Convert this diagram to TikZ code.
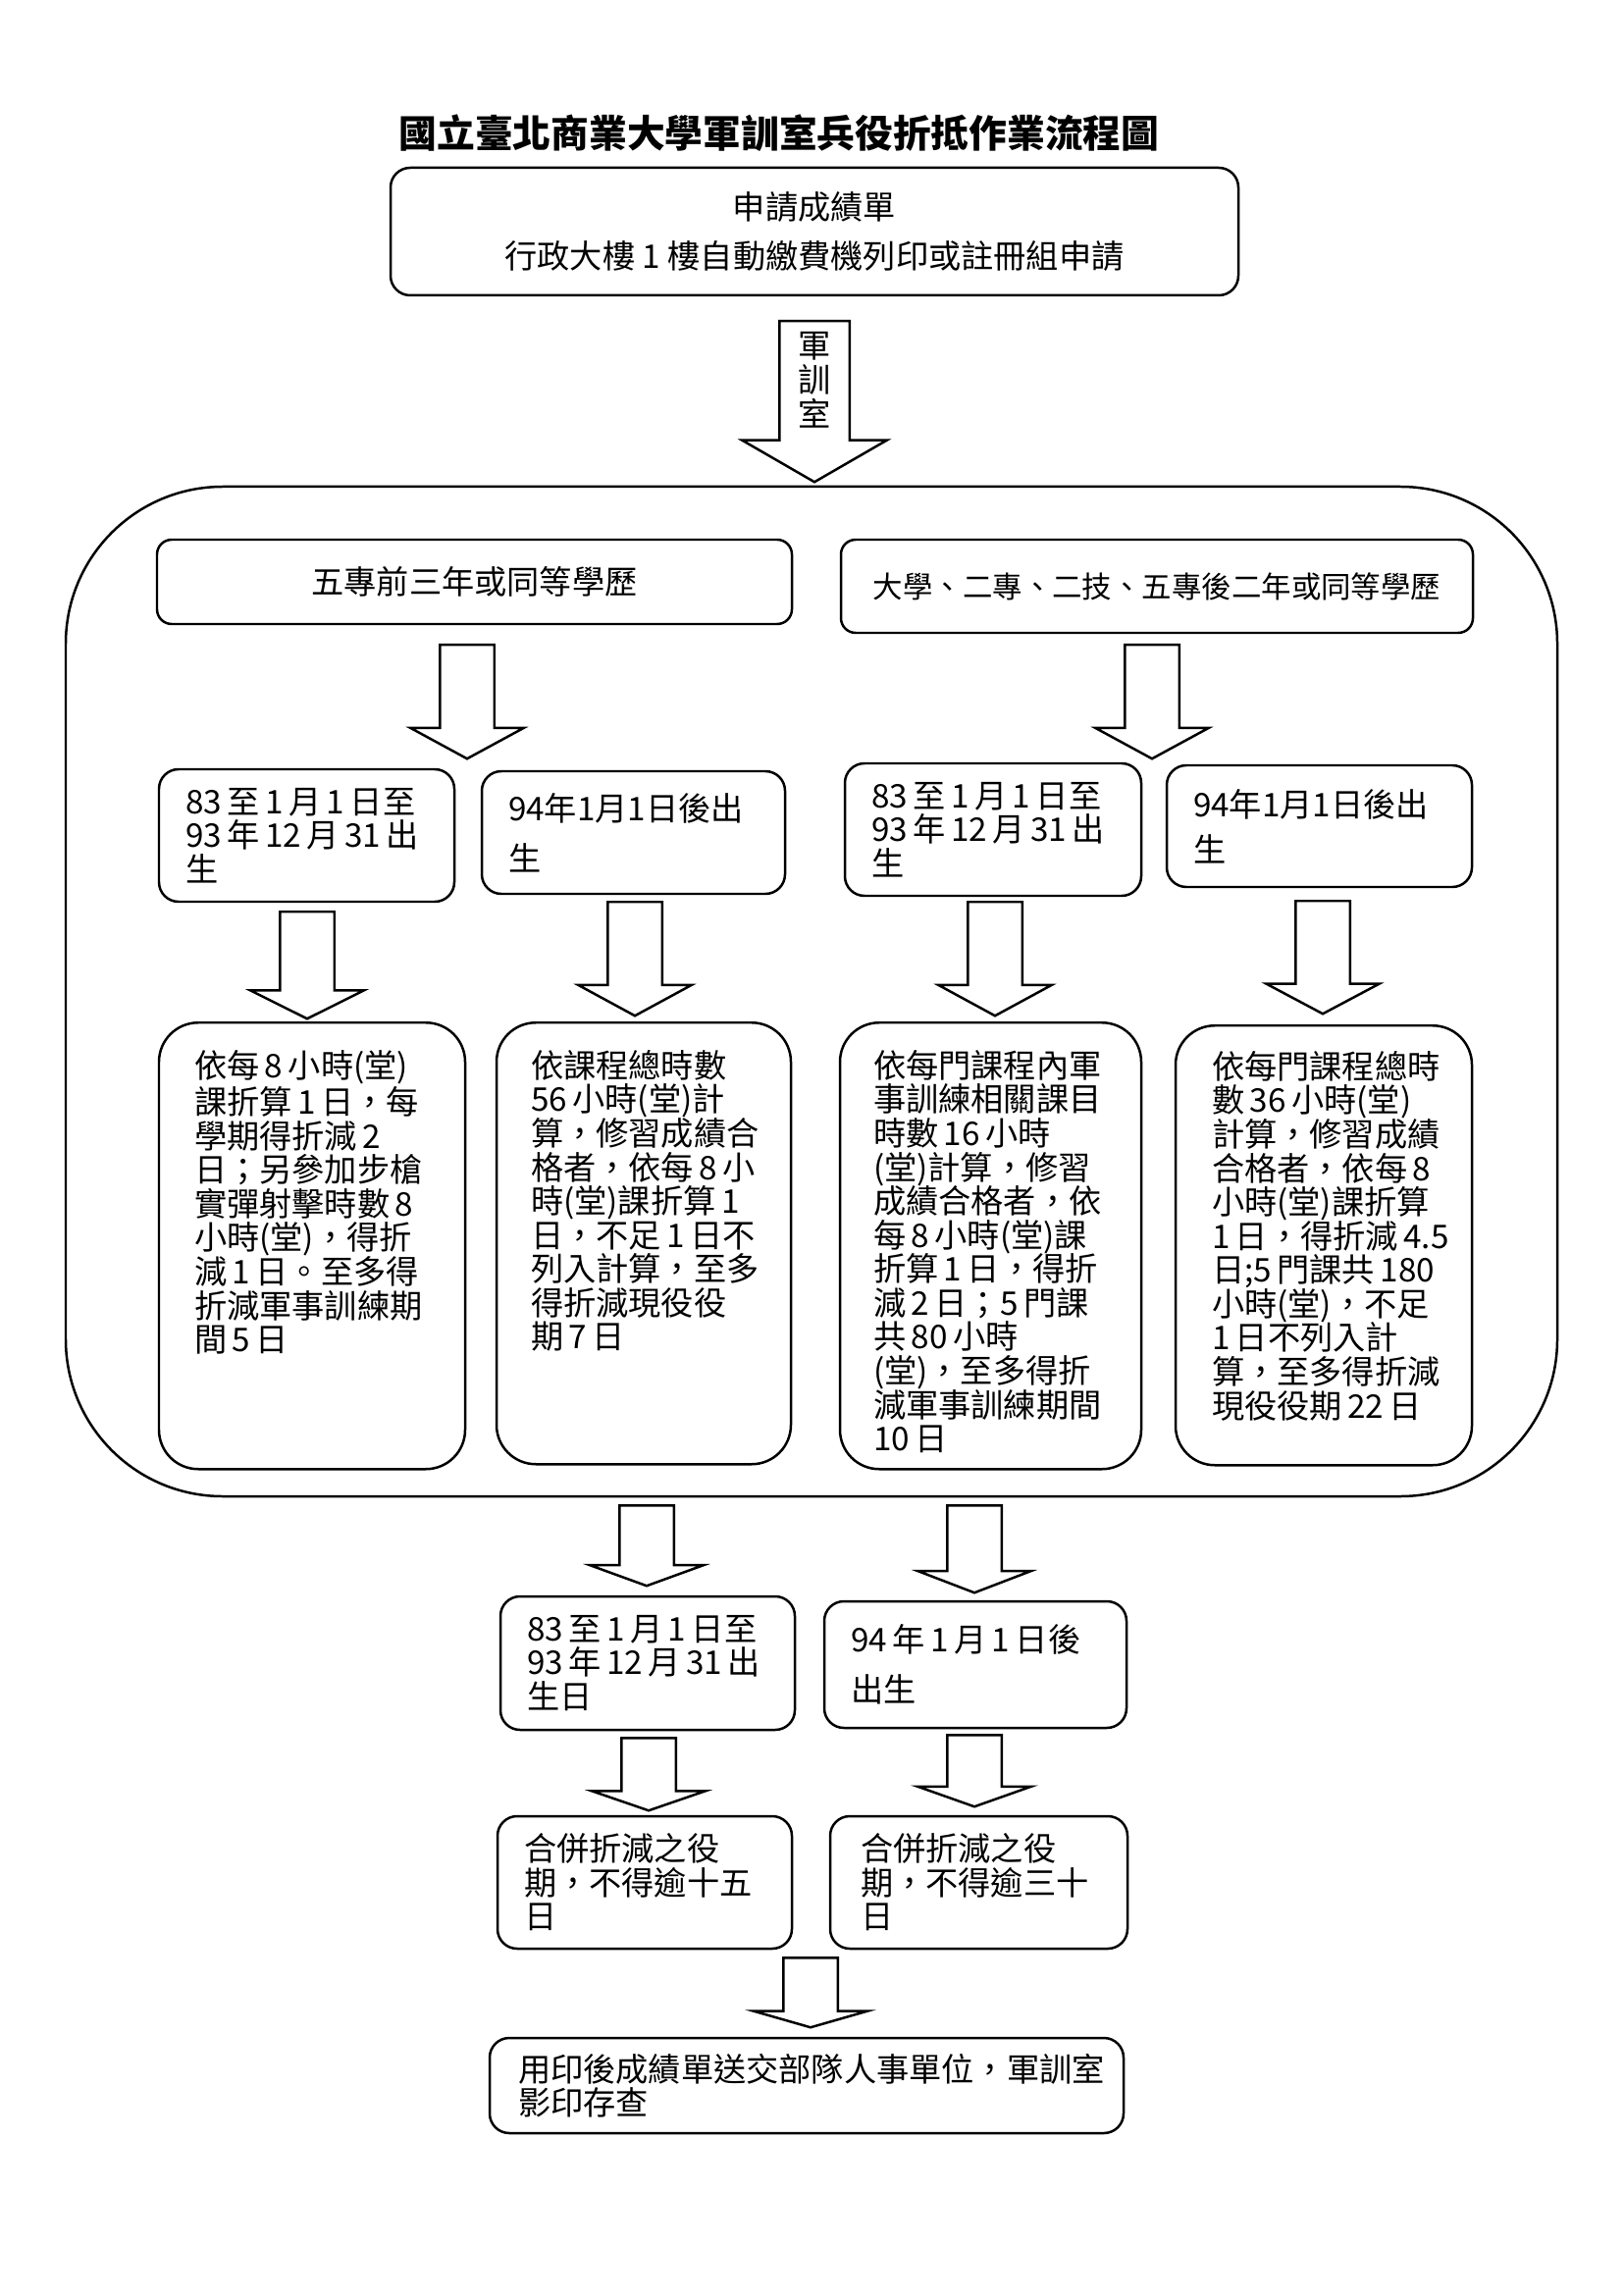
\documentclass[tikz,border=0pt]{standalone}
\usepackage{fontspec}
\setmainfont{Noto Sans CJK TC}
\usepackage{tikz}
\usetikzlibrary{shapes.arrows, positioning}
\newlength{\pu}
\setlength{\pu}{0.36135pt}

\begin{document}
\begin{tikzpicture}[
        x=\pu, y=-\pu,
        line width=0.9pt,
        block/.style={rectangle, draw, rounded corners=20\pu, align=left, inner xsep=27\pu, inner ysep=0pt, font=\fontsize{12}{12.5}\selectfont},
        tallblock/.style={block, rounded corners=40\pu, anchor=north, inner xsep=36\pu, text height=56\pu},
        edu/.style={rectangle, draw, rounded corners=15\pu, align=center, font=\fontsize{12}{14}\selectfont},
        outer/.style={rectangle, draw, rounded corners=160\pu},
        fat/.style 2 args={single arrow, draw, rotate=-90, anchor=tail, inner xsep=0pt, inner ysep=26.5\pu, single arrow head extend=30\pu, minimum height=#1, single arrow tip angle=#2}
    ]
    \useasboundingbox (0,0) rectangle (1654,2339);

    % Title
    \node[font=\fontsize{14}{16}\selectfont\bfseries] (title) at (794,136) {國立臺北商業大學軍訓室兵役折抵作業流程圖};

    % Top
    \node[block, align=center, minimum width=864\pu, minimum height=130\pu, font=\fontsize{12}{18}\selectfont] (apply) at (830,236) {申請成績單\\行政大樓~1~樓自動繳費機列印或註冊組申請};
    \node[fat={164\pu}{120}, inner ysep=34.5\pu, single arrow head extend=38\pu] (arTop) at (830,326) {};
    \node[align=center, font=\fontsize{12}{12.6}\selectfont] (arTopTxt) at (830,387) {軍\\訓\\室};

    % Outer frame
    \node[outer, minimum width=1520\pu, minimum height=1029\pu] (frame) at (827,1010.5) {};

    \node[edu, minimum width=647\pu, minimum height=86\pu] (eduL) at (483.5,593) {五專前三年或同等學歷};
    \node[edu, minimum width=644\pu, minimum height=95\pu, font=\fontsize{11}{13}\selectfont] (eduR) at (1179,597.5) {大學、二專、二技、五專後二年或同等學歷};

    \node[fat={116\pu}{123}] (arEduL) at (476,656) {};
    \node[fat={116\pu}{123}] (arEduR) at (1174,656) {};

    % Birth dates
    \node[block, text width=247\pu, minimum height=135\pu] (bornL1) at (312.5,851.5) {83\,至\,1\,月\,1\,日至\\93\,年\,12\,月\,31\,出\\生};
    \node[block, text width=255\pu, minimum height=125\pu] (bornL2) at (645.5,848.5) {94年1月1日後出\\[6pt]生};
    \node[block, text width=248\pu, minimum height=135\pu] (bornR1) at (1012,845.5) {83\,至\,1\,月\,1\,日至\\93\,年\,12\,月\,31\,出\\生};
    \node[block, text width=257\pu, minimum height=124\pu] (bornR2) at (1344.5,842) {94年1月1日後出\\[4pt]生};

    \node[fat={109\pu}{127}] (arL1) at (313,928) {};
    \node[fat={116\pu}{123}] (arL2) at (647,918) {};
    \node[fat={116\pu}{123}] (arR1) at (1014,918) {};
    \node[fat={115\pu}{124}] (arR2) at (1348,917) {};

    % Rules
    \node[tallblock, text width=240\pu, text depth=399\pu] (ruleL1) at (318,1041) {依每\,8\,小時(堂)\\課折算\,1\,日，每\\學期得折減\,2\\日；另參加步槍\\實彈射擊時數\,8\\小時(堂)，得折\\減\,1\,日。至多得\\折減軍事訓練期\\間\,5\,日};
    \node[tallblock, inner xsep=35\pu, text width=230\pu, text depth=394\pu] (ruleL2) at (656,1041) {依課程總時數\\56\,小時(堂)計\\算，修習成績合\\格者，依每\,8\,小\\時(堂)課折算\,1\\日，不足\,1\,日不\\列入計算，至多\\得折減現役役\\期\,7\,日};
    \node[tallblock, inner xsep=34\pu, text width=239\pu, text depth=399\pu] (ruleR1) at (1009.5,1041) {依每門課程內軍\\事訓練相關課目\\時數\,16\,小時\\(堂)計算，修習\\成績合格者，依\\每\,8\,小時(堂)課\\折算\,1\,日，得折\\減\,2\,日；5\,門課\\共\,80\,小時\\(堂)，至多得折\\減軍事訓練期間\\10\,日};
    \node[tallblock, inner xsep=37\pu, text width=228\pu, text height=54\pu, text depth=394\pu] (ruleR2) at (1349,1044) {依每門課程總時\\數\,36\,小時(堂)\\計算，修習成績\\合格者，依每\,8\\小時(堂)課折算\\1\,日，得折減\,4.5\\日;5\,門課共\,180\\小時(堂)，不足\\1\,日不列入計\\算，至多得折減\\現役役期\,22\,日};

    % Below frame
    \node[fat={82\pu}{140}] (arOutL) at (659,1533) {};
    \node[fat={89\pu}{138}] (arOutR) at (993,1533) {};

    \node[block, text width=246\pu, minimum height=136\pu] (bornA) at (660,1695) {83\,至\,1\,月\,1\,日至\\93\,年\,12\,月\,31\,出\\生日};
    \node[block, text width=254\pu, minimum height=129\pu] (bornB) at (994,1696.5) {94\,年\,1\,月\,1\,日後\\[6pt]出生};

    \node[fat={74\pu}{142}] (arA) at (661,1770) {};
    \node[fat={73\pu}{141}] (arB) at (993,1767) {};

    \node[block, text width=246\pu, minimum height=135\pu] (limA) at (657,1918.5) {合併折減之役\\期，不得逾十五\\日};
    \node[block, inner xsep=31\pu, text width=241\pu, minimum height=135\pu] (limB) at (997.5,1918.5) {合併折減之役\\期，不得逾三十\\日};

    \node[fat={71\pu}{148}] (arEnd) at (826,1994) {};

    \node[block, inner xsep=29\pu, text width=588\pu, minimum height=97\pu] (send) at (822,2125.5) {用印後成績單送交部隊人事單位，軍訓室\\影印存查};
\end{tikzpicture}
\end{document}
